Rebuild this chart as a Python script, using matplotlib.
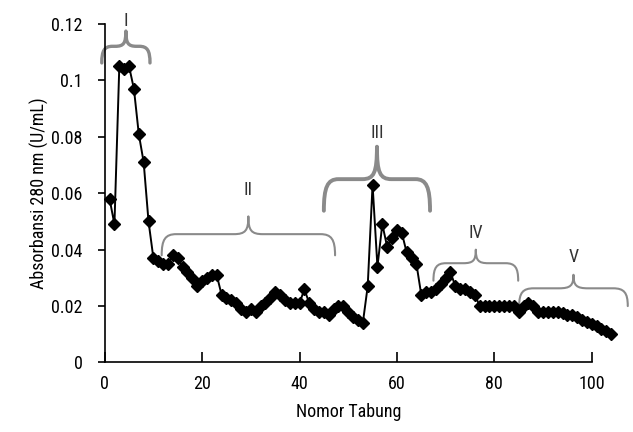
import matplotlib
matplotlib.use("Agg")
import matplotlib.pyplot as plt
from matplotlib.path import Path
from matplotlib.patches import PathPatch
from matplotlib import font_manager

# ---------------- data ----------------
tubes = list(range(1, 105))
absorbance = [
    0.058, 0.049, 0.105, 0.104, 0.105, 0.097, 0.081, 0.071, 0.050, 0.037,   # 1-10
    0.036, 0.035, 0.035, 0.038, 0.037, 0.034, 0.032, 0.030, 0.027, 0.029,   # 11-20
    0.030, 0.031, 0.031, 0.024, 0.023, 0.022, 0.021, 0.019, 0.018, 0.019,   # 21-30
    0.018, 0.020, 0.021, 0.023, 0.025, 0.024, 0.022, 0.021, 0.021, 0.021,   # 31-40
    0.026, 0.021, 0.019, 0.018, 0.018, 0.017, 0.019, 0.020, 0.020, 0.018,   # 41-50
    0.016, 0.015, 0.014, 0.027, 0.063, 0.034, 0.049, 0.041, 0.044, 0.047,   # 51-60
    0.046, 0.039, 0.037, 0.035, 0.024, 0.025, 0.025, 0.026, 0.028, 0.030,   # 61-70
    0.032, 0.027, 0.026, 0.026, 0.025, 0.024, 0.020, 0.020, 0.020, 0.020,   # 71-80
    0.020, 0.020, 0.020, 0.020, 0.018, 0.020, 0.021, 0.020, 0.018, 0.018,   # 81-90
    0.018, 0.018, 0.018, 0.0175, 0.017, 0.0167, 0.016, 0.015, 0.0143, 0.0135,  # 91-100
    0.0128, 0.012, 0.011, 0.010,                                          # 101-104
]

fraction_labels = ["I", "II", "III", "IV", "V"]
fraction_start = [-0.6, 11.7, 45.0, 67.5, 85.1]
fraction_end = [9.3, 47.3, 66.8, 84.9, 107.4]

x_ticks = [0, 20, 40, 60, 80, 100]
y_ticks = [0, 0.02, 0.04, 0.06, 0.08, 0.1, 0.12]
y_tick_labels = ["0", "0.02", "0.04", "0.06", "0.08", "0.1", "0.12"]

# ---------------- fonts ----------------
avail = {f.name for f in font_manager.fontManager.ttflist}
fam = [f for f in ["Liberation Sans Narrow", "Roboto Condensed", "Arial Narrow",
                   "Liberation Sans", "DejaVu Sans"] if f in avail]
plt.rcParams["font.family"] = fam
FS = 13

# ---------------- figure ----------------
fig = plt.figure(figsize=(6.33, 4.32), dpi=100)
ax = fig.add_axes([0.1654, 0.1609, 0.9348 - 0.1654, 0.9444 - 0.1609])

ax.plot(tubes, absorbance, color="black", lw=1.4, marker="D", ms=6,
        mfc="black", mec="black", clip_on=False, zorder=3)

ax.set_xlim(0, 100)
ax.set_ylim(0, 0.12)
ax.set_xticks(x_ticks)
ax.set_yticks(y_ticks)
ax.set_yticklabels(y_tick_labels)

for s in ["top", "right"]:
    ax.spines[s].set_visible(False)
for s in ["left", "bottom"]:
    ax.spines[s].set_linewidth(1.2)
    ax.spines[s].set_color("black")

ax.tick_params(axis="y", direction="out", length=5, width=1.2, labelsize=FS, pad=11)
ax.tick_params(axis="x", direction="in", length=7, width=1.2, labelsize=FS, pad=9)

ax.set_xlabel("Nomor Tabung", fontsize=FS, labelpad=7)
ax.set_ylabel("Absorbansi 280 nm (U/mL)", fontsize=FS, labelpad=1.5)

# ---------------- braces ----------------
def brace(x0, x1, y_line, y_end, y_tip, r, lw, color):
    xm = (x0 + x1) / 2.0
    verts = [
        (x0, y_end),
        (x0, y_end + (y_line - y_end) * 0.75), (x0 + r * 0.25, y_line), (x0 + r, y_line),
        (xm - r, y_line),
        (xm - r * 0.2, y_line), (xm, y_line + (y_tip - y_line) * 0.2), (xm, y_tip),
        (xm, y_line + (y_tip - y_line) * 0.2), (xm + r * 0.2, y_line), (xm + r, y_line),
        (x1 - r, y_line),
        (x1 - r * 0.25, y_line), (x1, y_end + (y_line - y_end) * 0.75), (x1, y_end),
    ]
    codes = [Path.MOVETO,
             Path.CURVE4, Path.CURVE4, Path.CURVE4,
             Path.LINETO,
             Path.CURVE4, Path.CURVE4, Path.CURVE4,
             Path.CURVE4, Path.CURVE4, Path.CURVE4,
             Path.LINETO,
             Path.CURVE4, Path.CURVE4, Path.CURVE4]
    p = PathPatch(Path(verts, codes), fill=False, lw=lw, ec=color,
                  clip_on=False, zorder=2, capstyle="round", joinstyle="round")
    ax.add_patch(p)
    return xm

brace_line = [0.1121, 0.0455, 0.0650, 0.0352, 0.0263]
brace_end = [0.1062, 0.0380, 0.0538, 0.0290, 0.0200]
brace_tip = [0.1175, 0.0518, 0.0765, 0.0400, 0.0311]
label_y = [0.1210, 0.0610, 0.0815, 0.0460, 0.0375]
brace_lw = [2.4, 1.5, 2.8, 1.5, 1.5]
brace_r = [2.2, 3.0, 3.0, 2.6, 3.0]

for lab, x0, x1, yl, ye, yt, ly, lw, r in zip(fraction_labels, fraction_start, fraction_end,
                                              brace_line, brace_end, brace_tip, label_y,
                                              brace_lw, brace_r):
    xm = brace(x0, x1, yl, ye, yt, r, lw, "#8a8a8a")
    ax.text(xm, ly, lab, ha="center", va="center", fontsize=FS, color="#333333",
            clip_on=False)

fig.savefig("out.png", dpi=100)
